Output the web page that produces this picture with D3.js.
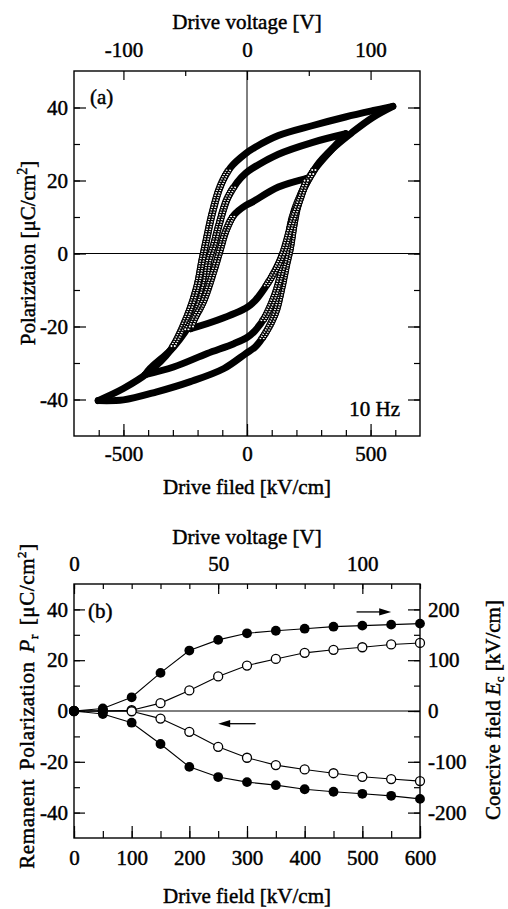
<!DOCTYPE html>
<html>
<head>
<meta charset="utf-8">
<title>Hysteresis and remanent polarization</title>
<script src="https://cdn.jsdelivr.net/npm/d3@7"></script>
<style>
  body { margin: 0; background: #fff; }
  svg text { font-family: "Liberation Serif", "Times New Roman", serif; font-size: 21px; fill: #000; stroke: #000; stroke-width: 0.45px; }
</style>
</head>
<body>
<svg id="chart" width="508" height="909"></svg>
<script>
// ---- panel (a): P-E loops at 10 Hz, [field kV/cm, P uC/cm2] ----
var loopBigUp = [[590,40.3],[507,39.1],[398,37.4],[263,35.0],[127,32.3],[33,29.1],[-5,27.4],[-66,23.6],[-107,18.6],[-140,11.2],[-165,3.5],[-182,-2],[-202,-9],[-243,-17.4],[-310,-26.5],[-405,-32.9],[-500,-37.0],[-602,-40.3]];
var loopBigDown = [[-602,-40.3],[-500,-40.1],[-365,-37.9],[-229,-35.1],[-93,-31.5],[-5,-27.4],[33,-25.6],[73,-22.0],[114,-16.5],[141,-9.3],[160,-3],[175,1.5],[190,8],[205,13],[229,17.7],[283,24.1],[344,28.6],[426,33.2],[507,37.2],[590,40.3]];
var loopMidUp = [[400,32.8],[263,30.4],[127,27.2],[19,23.2],[-5,22.0],[-40,19.5],[-80,15.0],[-114,7.7],[-134,2.5],[-155,-2],[-170,-8.3],[-215,-17.4],[-297,-25.6],[-392,-31.5],[-412,-33.2]];
var loopMidDown = [[-412,-33.2],[-297,-31.1],[-161,-27.4],[-53,-24.7],[0,-23.0],[33,-21.1],[73,-17.4],[114,-11.1],[141,-4.7],[158,0],[182,9.5],[222,16.8],[276,23.2],[344,28.6],[400,32.8]];
var loopSmallUp = [[243,20.6],[127,18.2],[19,14.0],[-5,13.2],[-53,10.5],[-87,5.9],[-107,1.4],[-134,-4.7],[-175,-12.9],[-215,-18.3],[-228,-20.6]];
var loopSmallDown = [[-228,-20.6],[-121,-18.3],[1,-14.7],[33,-12.9],[73,-9.3],[114,-4.7],[145,0],[182,8.6],[215,15],[243,20.6]];

var fieldTicksA = [-500, 0, 500];
var voltTicksA = [-100, 0, 100];
var polTicksA = [-40, -20, 0, 20, 40];

// ---- panel (b): remanent polarization and coercive field vs drive field ----
var driveField = [0, 50, 100, 150, 200, 250, 300, 350, 400, 450, 500, 550, 600];
var ecPlus  = [0, 5, 27, 75, 119, 140, 153, 158, 162, 166, 168, 170, 172];       // kV/cm, filled
var ecMinus = [0, -6, -23, -65, -110, -130, -140, -146, -154, -159, -163, -167, -173];
var prPlus  = [0, 0, 0.3, 3.1, 8.1, 13.6, 17.9, 20.5, 22.9, 24.1, 25.1, 26.2, 26.8]; // uC/cm2, open
var prMinus = [0, 0, -0.1, -3, -8.2, -14.1, -18.4, -21.3, -23, -24.5, -25.9, -26.8, -27.6];

var fieldTicksB = [0, 100, 200, 300, 400, 500, 600];
var voltTicksB = [0, 50, 100];
var polTicksB = [-40, -20, 0, 20, 40];
var ecTicksB = [-200, -100, 0, 100, 200];

var svg = d3.select("#chart");

function tickMarks(g, axisFn, scale, values, len) {
  g.call(axisFn(scale).tickValues(values).tickSizeInner(-len).tickSizeOuter(0).tickFormat(""));
  g.select(".domain").remove();
  g.selectAll("line").attr("stroke", "#000").attr("stroke-width", 1.2);
}
function tickLabels(g, axisFn, scale, values, pad) {
  g.call(axisFn(scale).tickValues(values).tickSize(0).tickPadding(pad).tickFormat(function(d){ return String(d); }));
  g.select(".domain").remove();
  g.attr("font-family", null).attr("font-size", null);
}
function range(a, b, s) { return d3.range(a, b + s / 2, s); }

// ================= panel (a) =================
var xA = d3.scaleLinear().domain([-700, 700]).range([74, 420]);
var vA = d3.scaleLinear().domain([-140, 140]).range([74, 420]);
var yA = d3.scaleLinear().domain([-50, 50]).range([436, 71]);

var gA = svg.append("g");

// zero lines
gA.append("line").attr("x1", 74).attr("x2", 420).attr("y1", yA(0)).attr("y2", yA(0)).attr("stroke", "#000").attr("stroke-width", 1);
gA.append("line").attr("x1", xA(0)).attr("x2", xA(0)).attr("y1", 71).attr("y2", 436).attr("stroke", "#000").attr("stroke-width", 1);

// ticks
tickMarks(gA.append("g").attr("transform", "translate(0,436)"), d3.axisBottom, xA, range(-600, 600, 100), 6);
tickMarks(gA.append("g").attr("transform", "translate(0,436)"), d3.axisBottom, xA, fieldTicksA, 12);
tickMarks(gA.append("g").attr("transform", "translate(0,71)"), d3.axisTop, vA, [-50, 50], 5);
tickMarks(gA.append("g").attr("transform", "translate(0,71)"), d3.axisTop, vA, voltTicksA, 9);
tickMarks(gA.append("g").attr("transform", "translate(74,0)"), d3.axisLeft, yA, range(-40, 40, 10), 6);
tickMarks(gA.append("g").attr("transform", "translate(74,0)"), d3.axisLeft, yA, polTicksA, 12);
tickMarks(gA.append("g").attr("transform", "translate(420,0)"), d3.axisRight, yA, range(-40, 40, 10), 6);
tickMarks(gA.append("g").attr("transform", "translate(420,0)"), d3.axisRight, yA, polTicksA, 12);

tickLabels(gA.append("g").attr("transform", "translate(0,436)"), d3.axisBottom, xA, fieldTicksA, 10);
tickLabels(gA.append("g").attr("transform", "translate(0,71)"), d3.axisTop, vA, voltTicksA, 14);
tickLabels(gA.append("g").attr("transform", "translate(74,0)"), d3.axisLeft, yA, polTicksA, 6);

// loops: thick band of overlapping markers; sparse open markers show on the steep switching parts
var lineA = d3.line().x(function(d){ return xA(d[0]); }).y(function(d){ return yA(d[1]); }).curve(d3.curveCatmullRom.alpha(0.5));
var loops = [loopBigUp, loopBigDown, loopMidUp, loopMidDown, loopSmallUp, loopSmallDown];
var loopPaths = gA.selectAll("path.loop").data(loops).enter().append("path")
  .attr("class", "loop").attr("d", lineA)
  .attr("fill", "none").attr("stroke", "#000").attr("stroke-width", 7).attr("stroke-linejoin", "round").attr("stroke-linecap", "round");

var marks = gA.append("g");
loopPaths.each(function(){
  var p = this, L = p.getTotalLength();
  for (var s = 0; s < L - 1; s += 2.5) {
    var a = p.getPointAtLength(s), b = p.getPointAtLength(Math.min(L, s + 1.5));
    var dx = Math.abs(b.x - a.x), dy = Math.abs(b.y - a.y);
    if (dy > 1.5 * dx) {
      [-1.6, 1.6].forEach(function(o){
        marks.append("circle").attr("cx", a.x + o).attr("cy", a.y).attr("r", 1.7)
          .attr("fill", "#fff").attr("stroke", "#000").attr("stroke-width", 1.25);
      });
    }
  }
});

// frame
gA.append("rect").attr("x", 74).attr("y", 71).attr("width", 346).attr("height", 365).attr("fill", "none").attr("stroke", "#000").attr("stroke-width", 1.4);

gA.append("text").attr("x", 90).attr("y", 104).text("(a)");
gA.append("text").attr("x", 400).attr("y", 416).attr("text-anchor", "end").text("10 Hz");
gA.append("text").attr("x", 247).attr("y", 29).attr("text-anchor", "middle").text("Drive voltage [V]");
gA.append("text").attr("x", 247).attr("y", 494).attr("text-anchor", "middle").text("Drive filed [kV/cm]");
var ylA = gA.append("text").attr("transform", "translate(35,253) rotate(-90)").attr("text-anchor", "middle");
ylA.append("tspan").text("Polariztaion [\u03bcC/cm");
ylA.append("tspan").attr("font-size", "14px").attr("dy", -8).text("2");
ylA.append("tspan").attr("dy", 8).text("]");

// ================= panel (b) =================
var xB = d3.scaleLinear().domain([0, 600]).range([74, 420]);
var vB = d3.scaleLinear().domain([0, 120]).range([74, 420]);
var yB = d3.scaleLinear().domain([-50, 50]).range([838, 584]);
var yBr = d3.scaleLinear().domain([-250, 250]).range([838, 584]);

var gB = svg.append("g");

gB.append("line").attr("x1", 74).attr("x2", 420).attr("y1", yB(0)).attr("y2", yB(0)).attr("stroke", "#000").attr("stroke-width", 1);

tickMarks(gB.append("g").attr("transform", "translate(0,838)"), d3.axisBottom, xB, range(0, 600, 50), 7);
tickMarks(gB.append("g").attr("transform", "translate(0,838)"), d3.axisBottom, xB, fieldTicksB, 12);
tickMarks(gB.append("g").attr("transform", "translate(0,584)"), d3.axisTop, vB, range(0, 120, 10), 5);
tickMarks(gB.append("g").attr("transform", "translate(0,584)"), d3.axisTop, vB, voltTicksB, 10);
tickMarks(gB.append("g").attr("transform", "translate(74,0)"), d3.axisLeft, yB, range(-40, 40, 10), 6);
tickMarks(gB.append("g").attr("transform", "translate(74,0)"), d3.axisLeft, yB, polTicksB, 11);
tickMarks(gB.append("g").attr("transform", "translate(420,0)"), d3.axisRight, yBr, range(-200, 200, 50), 6);
tickMarks(gB.append("g").attr("transform", "translate(420,0)"), d3.axisRight, yBr, ecTicksB, 12);

tickLabels(gB.append("g").attr("transform", "translate(0,838)"), d3.axisBottom, xB, fieldTicksB, 12);
tickLabels(gB.append("g").attr("transform", "translate(0,584)"), d3.axisTop, vB, voltTicksB, 13);
tickLabels(gB.append("g").attr("transform", "translate(74,0)"), d3.axisLeft, yB, polTicksB, 6);
tickLabels(gB.append("g").attr("transform", "translate(420,0)"), d3.axisRight, yBr, ecTicksB, 8);

var ptsEcPlus = driveField.map(function(f, i){ return [f, ecPlus[i]]; });
var ptsEcMinus = driveField.map(function(f, i){ return [f, ecMinus[i]]; });
var ptsPrPlus = driveField.map(function(f, i){ return [f, prPlus[i]]; });
var ptsPrMinus = driveField.map(function(f, i){ return [f, prMinus[i]]; });

var lineEc = d3.line().x(function(d){ return xB(d[0]); }).y(function(d){ return yBr(d[1]); });
var linePr = d3.line().x(function(d){ return xB(d[0]); }).y(function(d){ return yB(d[1]); });

[ptsPrPlus, ptsPrMinus].forEach(function(s){
  gB.append("path").attr("d", linePr(s)).attr("fill", "none").attr("stroke", "#000").attr("stroke-width", 1.1);
});
[ptsEcPlus, ptsEcMinus].forEach(function(s){
  gB.append("path").attr("d", lineEc(s)).attr("fill", "none").attr("stroke", "#000").attr("stroke-width", 1.1);
});
[ptsPrPlus, ptsPrMinus].forEach(function(s){
  gB.append("g").selectAll("circle").data(s).enter().append("circle")
    .attr("cx", function(d){ return xB(d[0]); }).attr("cy", function(d){ return yB(d[1]); })
    .attr("r", 4.5).attr("fill", "#fff").attr("stroke", "#000").attr("stroke-width", 1.3);
});
[ptsEcPlus, ptsEcMinus].forEach(function(s){
  gB.append("g").selectAll("circle").data(s).enter().append("circle")
    .attr("cx", function(d){ return xB(d[0]); }).attr("cy", function(d){ return yBr(d[1]); })
    .attr("r", 4.9).attr("fill", "#000");
});

// arrows: filled -> right axis, open -> left axis
var arrows = [
  { from: [490, 195], to: [550, 195], scale: yBr },
  { from: [315, -5], to: [250, -5], scale: yB }
];
arrows.forEach(function(a){
  var x1 = xB(a.from[0]), x2 = xB(a.to[0]), yy = a.scale(a.from[1]);
  var dir = x2 > x1 ? 1 : -1;
  gB.append("line").attr("x1", x1).attr("x2", x2 - dir * 8).attr("y1", yy).attr("y2", yy).attr("stroke", "#000").attr("stroke-width", 1.3);
  gB.append("path").attr("d", d3.line()([[x2, yy], [x2 - dir * 12, yy - 3.6], [x2 - dir * 12, yy + 3.6]]) + "Z").attr("fill", "#000");
});

gB.append("rect").attr("x", 74).attr("y", 584).attr("width", 346).attr("height", 254).attr("fill", "none").attr("stroke", "#000").attr("stroke-width", 1.4);

gB.append("text").attr("x", 88).attr("y", 618).text("(b)");
gB.append("text").attr("x", 247).attr("y", 544).attr("text-anchor", "middle").text("Drive voltage [V]");
gB.append("text").attr("x", 247).attr("y", 903).attr("text-anchor", "middle").text("Drive field [kV/cm]");

var ylB = gB.append("text").attr("transform", "translate(34,706) rotate(-90)").attr("text-anchor", "middle")
  .attr("word-spacing", "3px").attr("letter-spacing", "0.6px");
ylB.append("tspan").text("Remanent Polarization ");
ylB.append("tspan").attr("font-style", "italic").text("P");
ylB.append("tspan").attr("font-size", "13px").attr("dy", 4).text("r");
ylB.append("tspan").attr("dy", -4).text(" [\u03bcC/cm");
ylB.append("tspan").attr("font-size", "13px").attr("dy", -8).text("2");
ylB.append("tspan").attr("dy", 8).text("]");

var yrB = gB.append("text").attr("transform", "translate(500,710) rotate(-90)").attr("text-anchor", "middle");
yrB.append("tspan").text("Coercive field ");
yrB.append("tspan").attr("font-style", "italic").text("E");
yrB.append("tspan").attr("font-size", "13px").attr("dy", 4).text("c");
yrB.append("tspan").attr("dy", -4).text(" [kV/cm]");
</script>
</body>
</html>
